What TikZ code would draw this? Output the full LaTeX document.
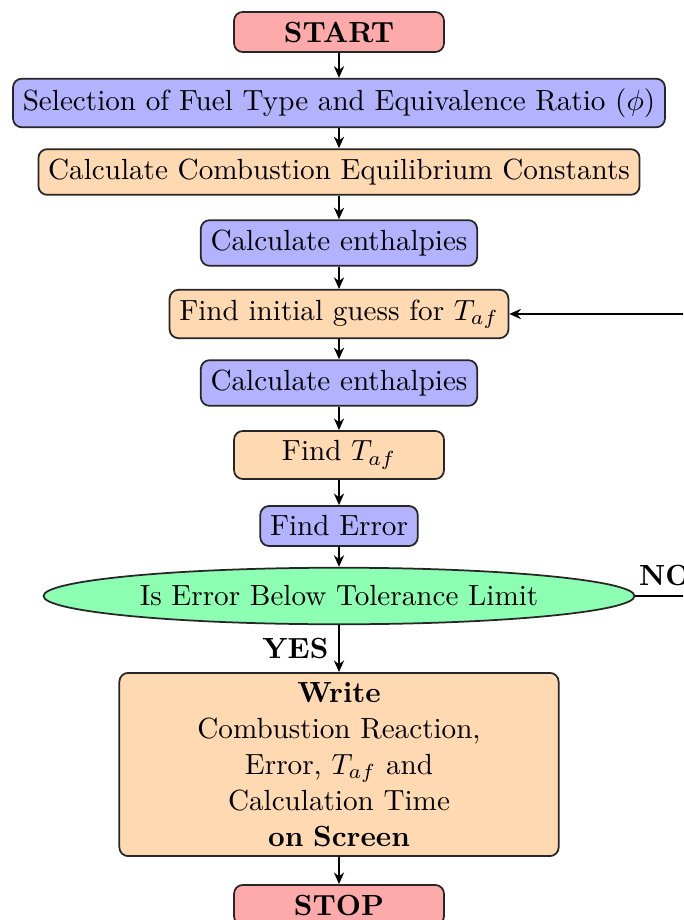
\documentclass[tikz,border=0pt]{standalone}
\usetikzlibrary{shapes.geometric,arrows.meta}
\definecolor{cstart}{RGB}{255,170,170}
\definecolor{cblue}{RGB}{178,178,255}
\definecolor{corange}{RGB}{255,217,178}
\definecolor{cgreen}{RGB}{140,255,178}
\tikzset{
  base/.style={draw=black!85, rounded corners=3pt, semithick, align=center},
  termbox/.style={base, fill=cstart, minimum width=72pt, font=\bfseries},
  bluebox/.style={base, fill=cblue},
  orbox/.style={base, fill=corange},
  decis/.style={ellipse, draw=black!85, semithick, fill=cgreen},
  flow/.style={-{Stealth[length=4pt,width=3.5pt]}, semithick},
  lab/.style={font=\bfseries},
}
\begin{document}
\begin{tikzpicture}[x=0.343pt,y=-0.343pt]
\useasboundingbox (0,0) rectangle (683,920);
\clip (0,0) rectangle (683,920);
\node[termbox] (start) at (339,32) {START};
\node[bluebox] (sel) at (339,103) {Selection of Fuel Type and Equivalence Ratio ($\phi$)};
\node[orbox] (eq) at (339,172) {Calculate Combustion Equilibrium Constants};
\node[bluebox] (enth1) at (339,243) {Calculate enthalpies};
\node[orbox] (guess) at (339,314) {Find initial guess for $T_{af}$};
\node[bluebox] (enth2) at (339,383) {Calculate enthalpies};
\node[orbox, minimum width=72pt] (taf) at (339,455) {Find $T_{af}$};
\node[bluebox] (err) at (339,526) {Find Error};
\node[decis] (dec) at (339,596) {Is Error Below Tolerance Limit};
\node[orbox, text width=144pt, execute at begin node=\setlength{\baselineskip}{12.3pt}] (write) at (339,764.5) {\textbf{Write}\\Combustion Reaction,\\Error, $T_{af}$ and\\Calculation Time\\\textbf{on Screen}};
\node[termbox] (stop) at (339,905) {STOP};
\coordinate (c1) at (740,596);
\coordinate (c2) at (740,314);
\draw[flow] (start) -- (sel);
\draw[flow] (sel) -- (eq);
\draw[flow] (eq) -- (enth1);
\draw[flow] (enth1) -- (guess);
\draw[flow] (guess) -- (enth2);
\draw[flow] (enth2) -- (taf);
\draw[flow] (taf) -- (err);
\draw[flow] (err) -- (dec);
\draw[flow] (dec) -- node[lab, left] (yes) {YES} (write);
\draw[flow] (write) -- (stop);
\draw[flow] (dec.east) -- node[lab, pos=0.0, anchor=south west, inner xsep=1pt] (no) {NO} (c1) -- (c2) -- (guess.east);
\end{tikzpicture}
\end{document}
